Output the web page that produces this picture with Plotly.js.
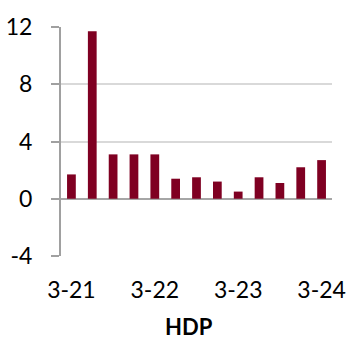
<!DOCTYPE html>
<html>
<head>
<meta charset="utf-8">
<script src="https://cdn.plot.ly/plotly-3.0.1.min.js"></script>
<style>html,body{margin:0;padding:0;background:#fff;}#chart{width:346px;height:342px;}</style>
</head>
<body>
<div id="chart"></div>
<script>
var categories = ['3-21','6-21','9-21','12-21','3-22','6-22','9-22','12-22','3-23','6-23','9-23','12-23','3-24'];
var hdpValues = [1.7, 11.7, 3.1, 3.1, 3.1, 1.4, 1.5, 1.2, 0.5, 1.5, 1.1, 2.2, 2.7];
var xTickLabels = ['3-21','3-22','3-23','3-24'];
var yTickValues = [-4, 0, 4, 8, 12];
var yTickLabels = ['-4', '0', '4', '8', '12'];
var chartTitle = 'HDP';

var font = 'Lato, "Open Sans", sans-serif';
Plotly.newPlot('chart', [{
  type: 'bar',
  x: categories,
  y: hdpValues,
  marker: {color: '#7f0022', line: {width: 0}},
  hoverinfo: 'skip'
}], {
  width: 346, height: 342,
  margin: {l: 61, r: 14, t: 27, b: 86, pad: 0},
  paper_bgcolor: '#fff', plot_bgcolor: '#fff',
  bargap: 0.58,
  showlegend: false,
  font: {family: font, size: 23, color: '#000'},
  xaxis: {
    type: 'category',
    tickmode: 'array',
    tickvals: xTickLabels,
    ticktext: xTickLabels,
    ticks: '',
    showgrid: false,
    showline: false,
    zeroline: false,
    ticklabelstandoff: 18,
    tickfont: {family: font, size: 23, color: '#000'},
    fixedrange: true
  },
  yaxis: {
    range: [-4, 12],
    tickmode: 'array',
    tickvals: yTickValues,
    ticktext: yTickLabels,
    ticks: 'outside',
    ticklen: 8,
    tickwidth: 2,
    tickcolor: '#a0a0a0',
    showline: true,
    linecolor: '#a0a0a0',
    linewidth: 2,
    showgrid: true,
    gridcolor: '#d9d9d9',
    gridwidth: 2,
    zeroline: true,
    zerolinecolor: '#a6a6a6',
    zerolinewidth: 2,
    ticklabelstandoff: 14,
    tickfont: {family: font, size: 23, color: '#000'},
    fixedrange: true
  },
  annotations: [{
    text: '<b>' + chartTitle + '</b>',
    xref: 'paper', yref: 'paper',
    x: 0.472, y: 0, yshift: -70,
    xanchor: 'center', yanchor: 'middle',
    showarrow: false,
    borderpad: 0,
    font: {family: font, size: 22, color: '#000'}
  }]
}, {displayModeBar: false, staticPlot: true});
</script>
</body>
</html>
